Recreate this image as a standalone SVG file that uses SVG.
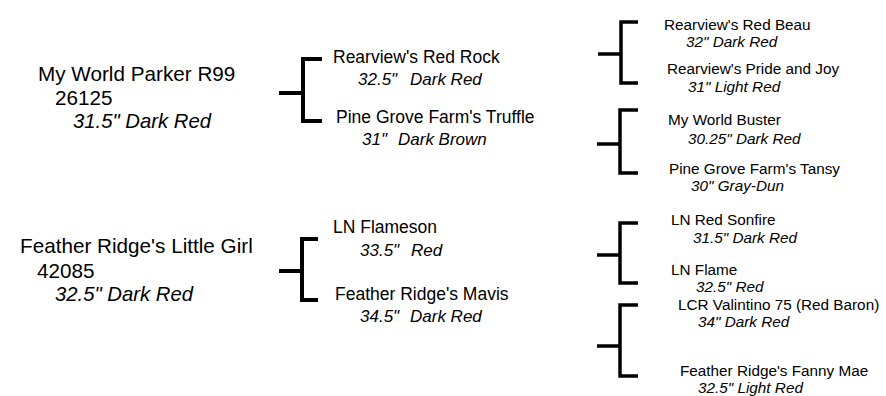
<svg xmlns="http://www.w3.org/2000/svg" width="886" height="396" viewBox="0 0 886 396">
<style>
text{font-family:"Liberation Sans",Arial,sans-serif;fill:#000}
.big{font-size:20.7px}
.bigi{font-size:20.3px;font-style:italic}
.nm{font-size:17.5px}
.it{font-size:17px;font-style:italic}
.rn{font-size:15.3px}
.ri{font-size:15.3px;font-style:italic}
.br{fill:none;stroke:#000;stroke-width:4}
.brs{fill:none;stroke:#000;stroke-width:3.5}
</style>
<rect width="886" height="396" fill="#fff"/>
<g id="connectors">
<path class="br" d="M322 59H303V121H322M279 93H303"/>
<path class="br" d="M318 239H302V300H318M279 271H302"/>
<path class="brs" d="M638 22H621V83H638M598 54H621"/>
<path class="brs" d="M638 110H620V173H638M597 144H620"/>
<path class="brs" d="M638 223H620V283H638M597 255H620"/>
<path class="brs" d="M638 305H620V376H638M597 346H620"/>
</g>
<g id="parker">
<text class="big" x="38" y="81">My World Parker R99</text>
<text class="big" x="55" y="105">26125</text>
<text class="bigi" x="73" y="128">31.5" Dark Red</text>
</g>
<g id="little-girl">
<text class="big" x="20" y="253">Feather Ridge's Little Girl</text>
<text class="big" x="37" y="278">42085</text>
<text class="bigi" x="55" y="301">32.5" Dark Red</text>
</g>
<g id="red-rock">
<text class="nm" x="333" y="63">Rearview's Red Rock</text>
<text class="it" x="358" y="85">32.5"<tspan x="410">Dark Red</tspan></text>
</g>
<g id="truffle">
<text class="nm" x="336" y="123">Pine Grove Farm's Truffle</text>
<text class="it" x="362" y="145">31"<tspan x="398">Dark Brown</tspan></text>
</g>
<g id="flameson">
<text class="nm" x="333" y="233">LN Flameson</text>
<text class="it" x="360" y="256">33.5"<tspan x="411">Red</tspan></text>
</g>
<g id="mavis">
<text class="nm" x="335" y="300">Feather Ridge's Mavis</text>
<text class="it" x="360" y="322">34.5"<tspan x="410">Dark Red</tspan></text>
</g>
<g id="red-beau">
<text class="rn" x="664" y="30">Rearview's Red Beau</text>
<text class="ri" x="686" y="47">32" Dark Red</text>
</g>
<g id="pride-and-joy">
<text class="rn" x="667" y="74">Rearview's Pride and Joy</text>
<text class="ri" x="688" y="92">31" Light Red</text>
</g>
<g id="buster">
<text class="rn" x="668" y="125">My World Buster</text>
<text class="ri" x="688" y="144">30.25" Dark Red</text>
</g>
<g id="tansy">
<text class="rn" x="669" y="174">Pine Grove Farm's Tansy</text>
<text class="ri" x="691" y="191">30" Gray-Dun</text>
</g>
<g id="red-sonfire">
<text class="rn" x="671" y="225">LN Red Sonfire</text>
<text class="ri" x="693" y="243">31.5" Dark Red</text>
</g>
<g id="flame">
<text class="rn" x="671" y="275">LN Flame</text>
<text class="ri" x="696" y="292">32.5" Red</text>
</g>
<g id="valintino">
<text class="rn" x="678" y="310">LCR Valintino 75 (Red Baron)</text>
<text class="ri" x="698" y="327">34" Dark Red</text>
</g>
<g id="fanny-mae">
<text class="rn" x="680" y="376">Feather Ridge's Fanny Mae</text>
<text class="ri" x="698" y="393">32.5" Light Red</text>
</g>
</svg>
